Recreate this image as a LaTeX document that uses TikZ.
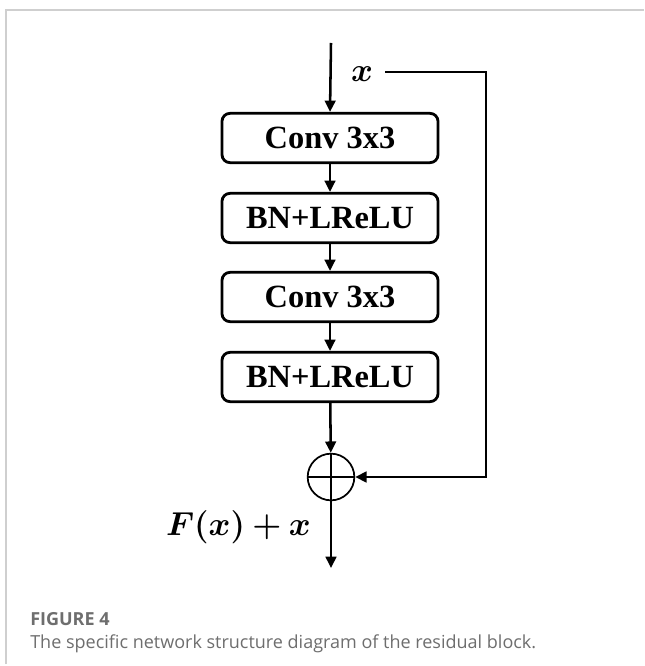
\documentclass[tikz,border=0pt]{standalone}
\usepackage{fontspec}
\usepackage{amsmath}
\usepackage{bm}
\setmainfont{Liberation Serif}
\newfontfamily\capfont{Open Sans}
\usetikzlibrary{arrows.meta}
\definecolor{capgrey}{HTML}{6E6E6E}
\definecolor{framegrey}{HTML}{CFCFCF}
\begin{document}
\begin{tikzpicture}[x=0.75pt,y=-0.75pt,
  blk/.style={draw=black, line width=2.1pt, rounded corners=6pt, minimum width=162pt, minimum height=37pt, inner sep=0pt, font=\fontsize{24.3pt}{26pt}\selectfont\bfseries},
  conn/.style={line width=1.9pt, -{Triangle[length=8.5pt,width=8pt]}},
  sumnode/.style={circle, draw=black, line width=1.3pt, minimum size=35pt, inner sep=0pt,
    path picture={\draw[line width=1.3pt] (path picture bounding box.north) -- (path picture bounding box.south) (path picture bounding box.west) -- (path picture bounding box.east);}}
]
\useasboundingbox (0,0) rectangle (644,666);
\fill[white] (0,0) rectangle (644,666);
\draw[framegrey, line width=1pt] (6,664) -- (6,10) -- (644,10);

\coordinate (top) at (331,43);
\node[blk] (b1) at (330,138) {Conv 3x3};
\node[blk] (b2) at (330,218) {BN+LReLU};
\node[blk] (b3) at (330,297) {Conv 3x3};
\node[blk] (b4) at (330,377) {BN+LReLU};
\node[sumnode] (sum) at (331,477) {};
\coordinate (out) at (331,568);
\node[font=\fontsize{28pt}{30pt}\selectfont] (xl) at (362,74) {$\bm{x}$};
\coordinate (s0) at (385,72);
\coordinate (s1) at (486,72);
\coordinate (s2) at (486,477);
\node[anchor=east, font=\fontsize{27pt}{30pt}\selectfont, inner sep=0pt] (fx) at (311,527) {$\bm{F(x)+x}$};

\draw[conn] (top) -- (b1.north);
\draw[conn] (b1) -- (b2);
\draw[conn] (b2) -- (b3);
\draw[conn] (b3) -- (b4);
\draw[conn] (b4) -- (sum);
\draw[conn] (s0) -- (s1) -- (s2) -- (sum.east);
\draw[conn] (sum) -- (out);

\node[anchor=base west, inner sep=0pt, text=capgrey, font=\capfont\bfseries\fontsize{13.5pt}{16pt}\selectfont] (fig) at (30,625) {FIGURE 4};
\node[anchor=base west, inner sep=0pt, text=capgrey, font=\capfont\fontsize{13.5pt}{16pt}\selectfont] (cap) at (30,648) {The specific network structure diagram of the residual block.};
\end{tikzpicture}
\end{document}
